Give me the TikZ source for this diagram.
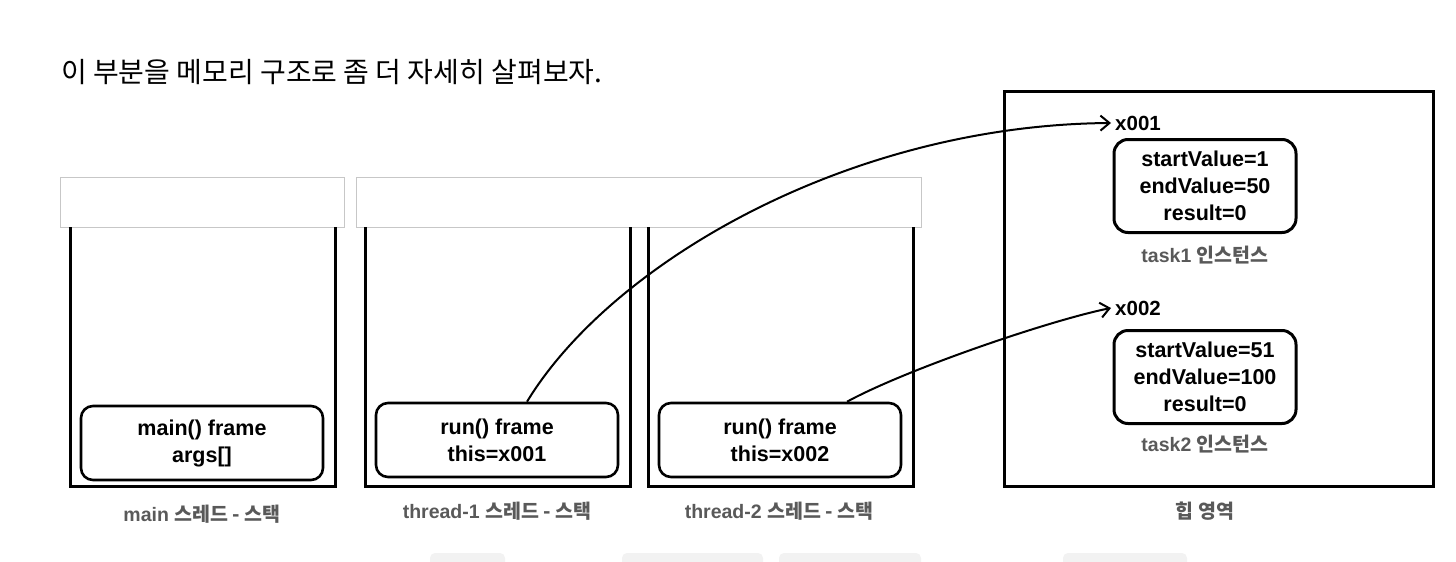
\documentclass[tikz,border=0pt]{standalone}
\usepackage{fontspec}
\setmainfont{Liberation Sans}
\newfontfamily\kr{Noto Sans CJK KR}
\usetikzlibrary{arrows.meta}

\begin{document}
\begin{tikzpicture}[x=1pt, y=1pt,
  frame/.style={draw, line width=2.6pt, rounded corners=12pt, minimum width=242pt, minimum height=74pt, align=center, font=\fontsize{21.5}{27}\selectfont\bfseries},
  inst/.style={draw, line width=3pt, rounded corners=14pt, minimum width=182pt, minimum height=93pt, align=center, font=\fontsize{21.5}{27}\selectfont\bfseries},
  stackwall/.style={line width=3pt},
  stacktop/.style={draw=black!22, fill=white, line width=1pt},
  caption/.style={text=black!65, font=\fontsize{19.5}{22}\selectfont\bfseries},
  ref/.style={anchor=west, inner sep=0pt, font=\fontsize{20.5}{24}\selectfont\bfseries},
  arrow/.style={-{Straight Barb[length=9pt, width=15pt, line width=2pt]}, line width=2pt},
  codebg/.style={fill=black!5, rounded corners=5pt}
]
  \useasboundingbox (0,0) rectangle (1456,-562);

  % Title
  \node[anchor=west, inner sep=0pt, font=\kr\fontsize{28}{32}\selectfont] (title) at (61,-72) {이 부분을 메모리 구조로 좀 더 자세히 살펴보자.};

  % Stacks
  \draw[stacktop] (60,-177) rectangle (344,-227);
  \draw[stacktop] (356,-177) rectangle (921,-227);
  \draw[stackwall] (70,-227) -- (70,-486) -- (335,-486) -- (335,-227);
  \draw[stackwall] (365,-227) -- (365,-486) -- (630,-486) -- (630,-227);
  \draw[stackwall] (648,-227) -- (648,-486) -- (913,-486) -- (913,-227);

  \node[frame] (mainf) at (202,-443) {main() frame\\args[]};
  \node[frame] (run1) at (497,-440) {run() frame\\this=x001};
  \node[frame] (run2) at (780,-440) {run() frame\\this=x002};

  \node[caption] (mainlbl) at (202,-514) {main {\kr 스레드 - 스택}};
  \node[caption] (t1lbl) at (497,-511) {thread-1 {\kr 스레드 - 스택}};
  \node[caption] (t2lbl) at (779,-511) {thread-2 {\kr 스레드 - 스택}};

  % Heap
  \draw[line width=3pt] (1004,-91) rectangle (1433,-486);
  \node[ref] (ref1) at (1115,-123) {x001};
  \node[inst] (task1) at (1205,-186) {startValue=1\\endValue=50\\result=0};
  \node[caption] (task1lbl) at (1205,-255) {task1 {\kr 인스턴스}};
  \node[ref] (ref2) at (1115,-308) {x002};
  \node[inst] (task2) at (1205,-377) {startValue=51\\endValue=100\\result=0};
  \node[caption] (task2lbl) at (1205,-444) {task2 {\kr 인스턴스}};
  \node[caption] (heaplbl) at (1205,-511) {{\kr 힙 영역}};

  % Arrows
  \draw[arrow] ([xshift=30pt]run1.north) .. controls (612,-262) and (850,-125) .. ([xshift=-4pt]ref1.west);
  \draw[arrow] ([xshift=67pt]run2.north) .. controls (907,-369) and (1051,-320) .. ([xshift=-4pt]ref2.west);

  % Cut-off text below
  \fill[codebg] (430,-553) rectangle (505,-575);
  \fill[codebg] (622,-553) rectangle (763,-575);
  \fill[codebg] (779,-553) rectangle (921,-575);
  \fill[codebg] (1063,-553) rectangle (1187,-575);
\end{tikzpicture}
\end{document}
